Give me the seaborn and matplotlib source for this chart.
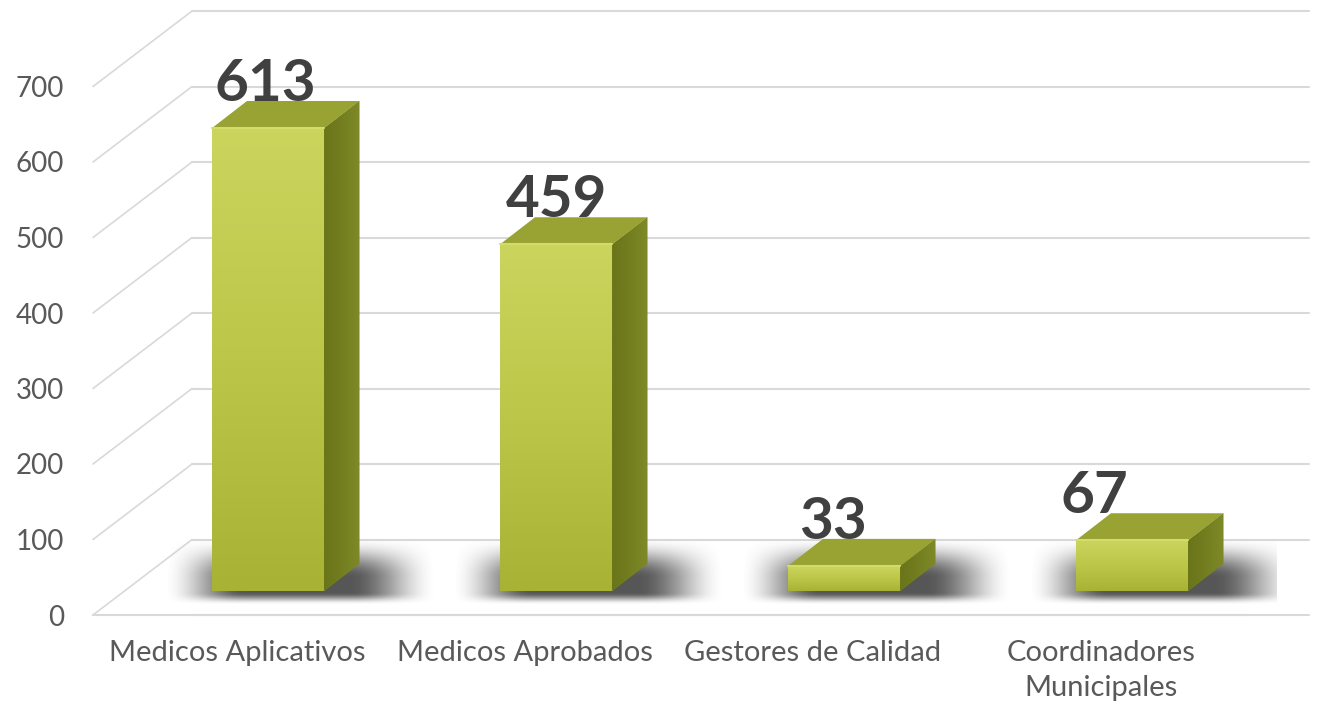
import numpy as np
import matplotlib
matplotlib.use("Agg")
import matplotlib.pyplot as plt
from matplotlib.patches import Polygon
from matplotlib.colors import LinearSegmentedColormap
import seaborn as sns

categories = ["Medicos Aplicativos", "Medicos Aprobados", "Gestores de Calidad", "Coordinadores\nMunicipales"]
values = [613, 459, 33, 67]
y_ticks = [0, 100, 200, 300, 400, 500, 600, 700]

# small horizontal nudges of the value labels (as in the original slide)
label_nudge = [-0.01, 0.0, -0.04, -0.13]

W, H = 1322, 709
sns.set_style("white")
plt.rcParams["font.family"] = ["Lato", "DejaVu Sans"]

fig = plt.figure(figsize=(W / 100, H / 100), dpi=100, facecolor="white")


def px_box(left, bottom, right, top):
    return [left / W, 1 - bottom / H, (right - left) / W, (bottom - top) / H]


scale = 0.755                      # pixels per unit
ymax = 615 / scale
depth_x, depth_y = 0.344, 100      # back wall offset (perspective)
bar_dx, bar_dy = 0.122, 36         # bar side depth
grid_col = "#d9d9d9"
text_col = "#595959"

# ---- wall / axis layer
ax_wall = fig.add_axes(px_box(93, 615, 1245, 0))
ax_wall.set_xlim(-0.5, 3.5)
ax_wall.set_ylim(0, ymax)
for s in ["left", "right", "top"]:
    ax_wall.spines[s].set_visible(False)
ax_wall.spines["bottom"].set_color(grid_col)
ax_wall.spines["bottom"].set_linewidth(1.5)
ax_wall.set_yticks(y_ticks)
ax_wall.set_yticklabels([str(t) for t in y_ticks])
ax_wall.set_xticks(range(len(categories)))
ax_wall.set_xticklabels(categories, linespacing=1.45)
ax_wall.tick_params(axis="y", length=0, pad=21, labelsize=20, labelcolor=text_col)
ax_wall.tick_params(axis="x", length=0, pad=18, labelsize=21, labelcolor=text_col)

for t in y_ticks + [800]:
    ax_wall.plot([-0.5 + depth_x, 3.5 + depth_x * 0.65], [t, t], color=grid_col, lw=1.5, clip_on=False, zorder=0)
for t in y_ticks:
    ax_wall.plot([-0.5, -0.5 + depth_x], [t, t + depth_y], color=grid_col, lw=1.2, clip_on=False, zorder=0)

# ---- bars layer (extends a little below the bar bottoms so the floor shadow fits)
below = 34
ax_bar = fig.add_axes(px_box(124, 591 + below, 1276, -24))
ax_bar.patch.set_alpha(0)
sns.barplot(x=categories, y=values, ax=ax_bar, width=0.39, color="#b5bf40",
            saturation=1, edgecolor="none", zorder=3)

front_cmap = LinearSegmentedColormap.from_list("front", ["#a8b335", "#bcc648", "#cbd55e"])
side_cmap = LinearSegmentedColormap.from_list("side", ["#6a7419", "#7e8927"])

xx = np.linspace(0, 1, 240)
yy = np.linspace(0, 1, 90)
X, Y = np.meshgrid(xx, yy)


def smooth(a, b, x):
    t = np.clip((x - a) / (b - a), 0, 1)
    return t * t * (3 - 2 * t)


shadow_alpha = smooth(0.0, 0.3, X) * smooth(1.0, 0.68, X) * smooth(0.0, 0.18, Y) * smooth(1.0, 0.4, Y)
shadow = np.zeros((90, 240, 4))
shadow[..., :3] = 0.25
shadow[..., 3] = shadow_alpha * 0.88

for i, p in enumerate(ax_bar.patches):
    x0 = p.get_x()
    x1 = x0 + p.get_width()
    h = p.get_height()
    # soft floor shadow
    ax_bar.imshow(shadow, extent=[x0 - 0.17, x1 + bar_dx + 0.27, -19, 70], origin="lower",
                  aspect="auto", zorder=1, interpolation="bilinear")
    # front gradient
    grad = np.linspace(0, 1, 100).reshape(-1, 1)
    im = ax_bar.imshow(grad, extent=[x0, x1, 0, h], origin="lower", aspect="auto",
                       cmap=front_cmap, zorder=3.1)
    im.set_clip_path(p)
    # side face
    side = Polygon([(x1, 0), (x1 + bar_dx, bar_dy), (x1 + bar_dx, h + bar_dy), (x1, h)],
                   closed=True, facecolor="#76811f", edgecolor="none", zorder=3.2)
    ax_bar.add_patch(side)
    sgrad = np.linspace(0, 1, 50).reshape(1, -1)
    sim = ax_bar.imshow(sgrad, extent=[x1, x1 + bar_dx, 0, h + bar_dy], origin="lower",
                        aspect="auto", cmap=side_cmap, zorder=3.25)
    sim.set_clip_path(side)
    # top face
    top = Polygon([(x0, h), (x1, h), (x1 + bar_dx, h + bar_dy), (x0 + bar_dx, h + bar_dy)],
                  closed=True, facecolor="#98a333", edgecolor="none", zorder=3.3)
    ax_bar.add_patch(top)
    ax_bar.plot([x0, x1], [h, h], color="#d3dc6a", lw=1.5, zorder=3.4)
    # value label
    ax_bar.text((x0 + x1) / 2 + label_nudge[i], h + bar_dy, str(values[i]), ha="center", va="baseline",
                fontsize=42, fontweight="bold", color="#404040", zorder=5)

ax_bar.set_xlim(-0.5, 3.5)
ax_bar.set_ylim(-below / scale, ymax)
ax_bar.axis("off")

fig.savefig("out.png", dpi=100, facecolor="white")
